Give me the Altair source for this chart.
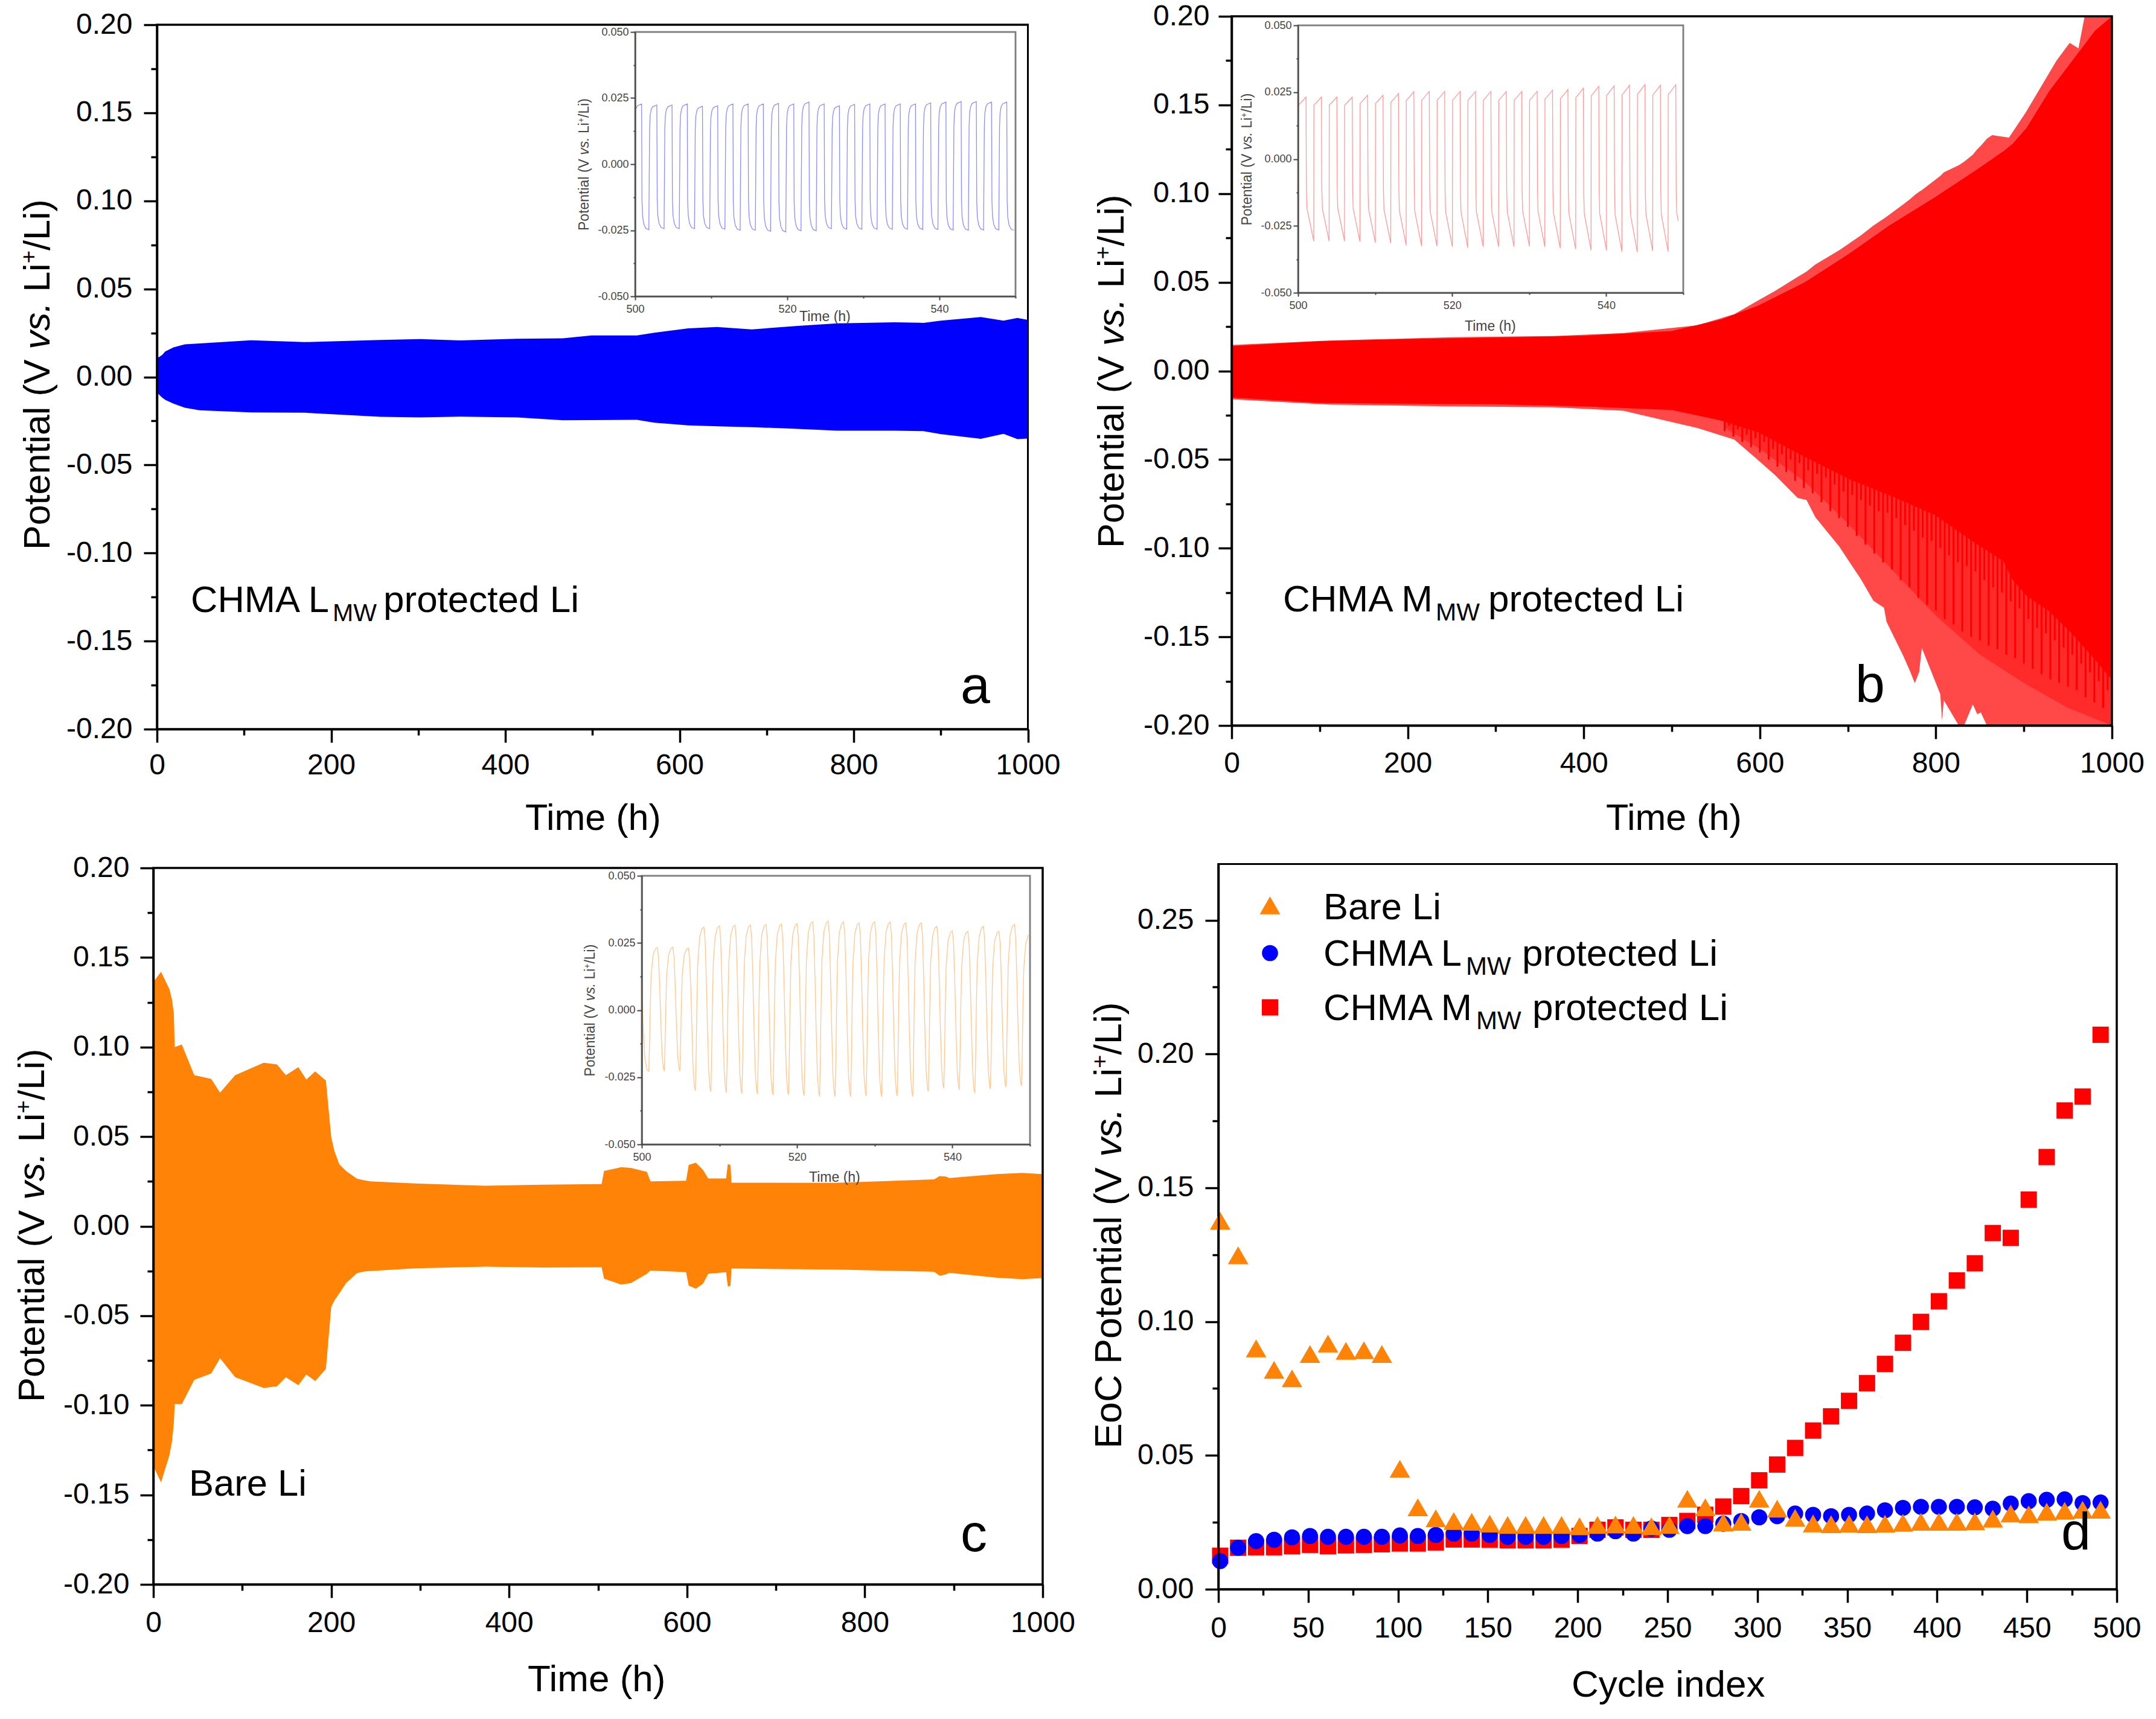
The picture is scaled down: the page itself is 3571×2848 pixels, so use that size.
import altair as alt
import pandas as pd

FONT = "Liberation Sans"
W, H, M = 3555, 2832, 8
BLUE, RED, ORANGE = "#0000ff", "#ff0000", "#ff8306"

# ---------- panel a envelope ----------
a_t = [0, 6, 9.5, 19, 32, 49, 108, 170, 256, 302, 348, 413, 466, 499, 551, 571, 610, 643, 683, 735, 781, 847, 880, 900, 946, 972, 988, 1000]
a_up = [.0105, .0125, .0145, .0168, .0185, .019, .0208, .0198, .021, .0215, .0207, .0217, .0219, .0236, .0236, .0251, .0276, .0284, .027, .029, .0304, .031, .0307, .032, .034, .032, .0335, .0324]
a_lo = [-.0089, -.0117, -.013, -.0152, -.0175, -.0189, -.0201, -.0203, -.0226, -.023, -.0225, -.023, -.0246, -.0245, -.0243, -.026, -.0275, -.028, -.0285, -.0295, -.0305, -.0305, -.0308, -.0325, -.0351, -.0323, -.0353, -.035]

# ---------- panel b envelope: outer tips, mid tone, solid core, streaks ----------
b_t = [0, 110, 248, 366, 445, 529, 571, 599, 617, 643, 653, 663, 690, 715, 729, 741, 744, 763, 771, 776, 781, 784, 805, 807, 809, 826, 832, 842, 847, 851, 858, 864, 883, 902, 937, 952, 962, 969, 1000]
b_up = [.0146, .0171, .019, .0197, .0214, .0257, .032, .04, .045, .053, .056, .06, .068, .0765, .082, .086, .087, .094, .097, .0992, .101, .102, .11, .111, .112, .116, .118, .122, .125, .127, .131, .133, .1316, .1457, .175, .185, .182, .2, .2]
b_lo = [-.016, -.019, -.02, -.0205, -.0225, -.0322, -.0387, -.0507, -.0586, -.0717, -.0728, -.0825, -.0989, -.1176, -.1296, -.1335, -.1415, -.1608, -.1698, -.1761, -.1698, -.1562, -.1823, -.197, -.1857, -.2, -.2, -.188, -.1936, -.1926, -.2, -.2, -.2, -.2, -.2, -.2, -.2, -.2, -.2]
mid_t = [560, 600, 650, 700, 750, 800, 850, 900, 950, 1000]
mid_lo = [-.032, -.044, -.062, -.086, -.112, -.138, -.16, -.176, -.19, -.2]
mid_up = [0, 0, 0, 0, 0, 0, 0, 0, 0, 0]
core_t = [0, 100, 200, 300, 400, 500, 556, 599, 651, 701, 747, 799, 845, 877, 887, 903, 929, 955, 981, 1000]
core_up = [.014, .0168, .018, .0188, .0198, .0225, .029, .037, .05, .066, .082, .098, .113, .124, .128, .137, .158, .175, .192, .2]
core_lo = [-.015, -.018, -.0185, -.0188, -.02, -.022, -.028, -.0348, -.0484, -.0609, -.07, -.0813, -.0972, -.1074, -.1176, -.1267, -.1357, -.1483, -.163, -.1744]
streak_t = list(range(560, 1000, 5))
streak_lo = [-.034, -.031, -.037, -.033, -.04, -.036, -.043, -.038,
             -.046, -.04, -.05, -.044, -.054, -.047, -.057, -.05, -.062, -.052, -.066,
             -.056, -.069, -.058, -.074, -.06, -.079, -.064, -.083, -.068, -.088,
             -.07, -.093, -.073, -.098, -.076, -.103, -.079, -.108, -.08, -.112,
             -.083, -.118, -.087, -.122, -.09, -.128, -.094, -.132, -.096, -.135,
             -.1, -.14, -.104, -.143, -.108, -.147, -.11, -.15, -.113, -.152,
             -.118, -.155, -.122, -.157, -.125, -.16, -.13, -.162, -.134, -.165,
             -.14, -.168, -.145, -.171, -.148, -.174, -.152, -.176, -.156, -.178,
             -.16, -.18, -.165, -.184, -.17, -.187, -.175, -.19, -.18]

# ---------- panel c envelope ----------
c_t = [0, 8.6, 18, 21, 23, 24, 32, 46, 65, 75, 92, 124, 139, 149, 163, 172, 182, 194, 200, 203.5, 209, 217, 229, 237, 244, 295, 373, 439, 504, 506.8, 526, 537, 555, 559, 599, 602, 610, 618, 624, 644, 646, 649, 650, 766, 878, 884, 891, 895, 948, 977, 1000]
c_up = [.1363, .142, .1324, .1264, .1189, .1, .1014, .0843, .0822, .0746, .0843, .0912, .0903, .0843, .0888, .0819, .0864, .0813, .0497, .0421, .0346, .0307, .0265, .0256, .025, .0238, .0226, .0232, .0235, .0308, .0329, .0325, .0303, .025, .0254, .0342, .0355, .0314, .0266, .0266, .0348, .034, .0243, .0242, .0261, .028, .0277, .0269, .0291, .0297, .0291]
c_lo = [-.134, -.143, -.128, -.12, -.11, -.0993, -.0993, -.0858, -.0822, -.0737, -.0843, -.0903, -.0894, -.0843, -.0888, -.0828, -.0864, -.0797, -.0451, -.0415, -.0376, -.0316, -.0262, -.0253, -.025, -.0235, -.0226, -.0231, -.0229, -.0293, -.0326, -.0318, -.0265, -.0248, -.0256, -.0332, -.0349, -.0321, -.0265, -.0257, -.0338, -.0332, -.0236, -.0242, -.0254, -.0276, -.027, -.026, -.0287, -.0296, -.029]

# ---------- inset waveforms: peak read for each cycle, plus the cycle's shape ----------
ia_top = [.0228, .0224, .0224, .0228, .0219, .0221, .0228, .0228, .0228, .023, .0228, .0235, .0228, .0221, .0226, .0228, .0228, .0228, .0228, .0232, .0235, .0237, .0237, .0235, .0235]
ia_bot = [-.0248, -.0244, -.0244, -.0244, -.0244, -.0246, -.025, -.025, -.0254, -.0256, -.0252, -.0252, -.0244, -.0246, -.0246, -.0246, -.0246, -.0246, -.0247, -.0247, -.0249, -.025, -.0249, -.0249, -.025]
ia_up_shape = [(0, .6), (.07, .82), (.2, .92), (.4, .97), (.95, 1)]
ia_dn_shape = [(1, .55), (1.08, .8), (1.25, .92), (1.5, .98), (1.9, 1)]

ib_top = [.0232, .0232, .0232, .0232, .0239, .0239, .0245, .0252, .0253, .0253, .0253, .0253, .0253, .0253, .0253, .0253, .0258, .026, .0265, .0272, .0274, .0276, .0279, .0276, .0278]
ib_bot = [-.0307, -.0307, -.0307, -.0309, -.0313, -.0315, -.0322, -.0326, -.0326, -.0328, -.0332, -.0328, -.0328, -.0328, -.0326, -.0328, -.0334, -.0337, -.0341, -.0341, -.0346, -.0348, -.0344, -.0346, -.0335]
ib_up_shape = [(0, .87), (.25, .9), (.98, 1)]
ib_dn_shape = [(1.03, .36), (1.1, .6), (1.3, .69), (1.98, 1)]

ic_top = [.0233, .0234, .0231, .0309, .0314, .0316, .0316, .0319, .032, .0322, .0329, .0331, .0329, .0325, .0329, .0328, .0325, .0325, .0312, .0295, .0293, .0312, .0293, .0319, .0282]
ic_bot = [-.0227, -.0227, -.0227, -.03, -.0304, -.0307, -.0311, -.0313, -.0316, -.0316, -.0319, -.0322, -.0322, -.0322, -.032, -.0322, -.032, -.0322, -.0303, -.0291, -.0296, -.0309, -.0294, -.0287, -.0283]
ic_start_t = [500, 500.15, 500.4, 500.7]
ic_start_v = [.008, -.005, -.018, -.0225]
ic_rise_shape = [(0, "b", 1), (.1, "b", .55), (.18, "b", 0), (.3, "t", .55), (.55, "t", .88), (.85, "t", .98), (1.1, "t", 1)]
ic_fall_shape = [(1.25, "t", .85), (1.4, "t", .4), (1.55, "n", .2), (1.72, "n", .75), (1.88, "n", .95)]

# ---------- panel d ----------
cycle = [1, 11, 21, 31, 41, 51, 61, 71, 81, 91, 101, 111, 121, 131, 141, 151, 161, 171, 181, 191, 201, 211, 221, 231, 241, 251, 261, 271, 281, 291, 301, 311, 321, 331, 341, 351, 361, 371, 381, 391, 401, 411, 421, 431, 441, 451, 461, 471, 481, 491]
d_bare = [.1377, .1248, .09, .082, .0788, .0879, .0918, .0891, .0893, .0879, .045, .0306, .0265, .0255, .0252, .0245, .024, .024, .024, .024, .0235, .024, .0242, .024, .0235, .024, .0338, .0306, .025, .0252, .0338, .0301, .0267, .0246, .0243, .0245, .0243, .0245, .0248, .0252, .0252, .0252, .0254, .0264, .0283, .028, .029, .0293, .0297, .0297]
d_l = [.0105, .0155, .018, .0185, .0194, .0199, .0196, .0196, .0196, .0196, .0201, .0199, .0203, .0208, .0208, .0203, .0196, .0196, .0196, .0199, .0203, .0208, .0217, .0208, .0227, .0222, .0236, .0236, .0245, .0255, .0269, .0273, .0283, .0278, .0273, .0278, .0283, .0295, .0304, .0308, .0308, .0308, .0306, .0301, .032, .0329, .0334, .0336, .0322, .0324]
d_m = [.0125, .0155, .0157, .0157, .0161, .0166, .0161, .0164, .0166, .0168, .0171, .0171, .0175, .0186, .0186, .0185, .0183, .0183, .0183, .0185, .0199, .0222, .0231, .0222, .0222, .024, .0255, .0278, .0309, .0348, .0407, .0466, .0528, .0593, .0646, .0704, .077, .0842, .0921, .0999, .1076, .1154, .1218, .1331, .1313, .1456, .1615, .1789, .1841, .2072]

POT = [("Potential (V", 5.447, "normal", 0, 1), ("vs.", 1.556, "italic", 0, 1), ("Li", .778, "normal", 0, 1), ("+", .35, "normal", .36, .6), ("/Li)", 1.389, "normal", 0, 1)]
EOC = [("EoC", 2.223, "normal", 0, 1)]


def build_square(top, bot, up, dn, offset):
    t, v = [], []
    for k in range(25):
        for ph, f in up:
            t.append(500 + 2 * k + ph + offset)
            v.append(top[k] * f)
        for ph, f in dn:
            t.append(500 + 2 * k + ph + offset)
            v.append(bot[k] * f)
    return pd.DataFrame({"t": t, "v": v}).query("t >= 500 and t <= 550")


def build_c():
    t, v = list(ic_start_t), list(ic_start_v)
    for k in range(25):
        nxt = ic_bot[min(k + 1, 24)]
        for ph, w, f in ic_rise_shape + ic_fall_shape:
            t.append(500.9 + 2 * k + ph)
            base = {"b": ic_bot[k], "t": ic_top[k], "n": nxt}[w]
            v.append(base * f)
    return pd.DataFrame({"t": t, "v": v}).query("t <= 550")


def scales(box, xd, yd):
    x0, x1, y0, y1 = box
    return (alt.Scale(domain=xd, range=[x0 - M, x1 - M], nice=False, zero=False, clamp=True),
            alt.Scale(domain=yd, range=[y1 - M, y0 - M], nice=False, zero=False, clamp=True))


def frame_layers(box, xd, yd, xmaj, xmin, ymaj, ymin, fmt_x, fmt_y, inset=False, pad_x=14, pad_y=19):
    sx, sy = scales(box, xd, yd)
    x0, x1, y0, y1 = box
    df = pd.DataFrame({"a": [xd[0]], "b": [xd[1]], "c": [yd[0]], "d": [yd[1]]})
    tick_w = 2 if inset else 3.5
    col = "#444444" if inset else "#000000"
    common = dict(grid=False, title=None, zindex=1, labelFont=FONT, labelColor=col, domainColor=col, tickColor=col,
                  tickWidth=tick_w, domainWidth=tick_w, labelFontSize=18 if inset else 48,
                  labelOverlap=False, labelFlush=False, labelBound=False)
    maj_x = alt.Axis(orient="bottom", offset=(y1 - M) - H, values=xmaj, format=fmt_x,
                     tickSize=6 if inset else 22, labelPadding=pad_x, **common)
    maj_y = alt.Axis(orient="left", offset=-(x0 - M), values=ymaj, format=fmt_y,
                     labelExpr="replace(datum.label, '\u2212', '-')",
                     tickSize=8 if inset else 22, labelPadding=pad_y, **common)
    min_common = dict(common, labelFontSize=1)
    min_x = alt.Axis(orient="bottom", offset=(y1 - M) - H, values=xmin, labels=False, domain=False,
                     tickSize=3 if inset else 10, **min_common)
    min_y = alt.Axis(orient="left", offset=-(x0 - M), values=ymin, labels=False, domain=False,
                     tickSize=3 if inset else 10, **min_common)
    stroke = "#808080" if inset else "#000000"
    mk = alt.Chart(df).mark_rect(fillOpacity=0, stroke=stroke, strokeWidth=2.5 if inset else 3)
    return [
        mk.encode(x=alt.X("a:Q", scale=sx, axis=maj_x), x2="b:Q", y=alt.Y("c:Q", scale=sy, axis=maj_y), y2="d:Q"),
        mk.encode(x=alt.X("a:Q", scale=sx, axis=min_x), x2="b:Q", y=alt.Y("c:Q", scale=sy, axis=min_y), y2="d:Q"),
    ]


def band(t, up, lo, box, xd, yd, color):
    sx, sy = scales(box, xd, yd)
    df = pd.DataFrame({"t": t, "u": up, "l": lo})
    return alt.Chart(df).mark_area(color=color, opacity=1, interpolate="linear").encode(
        x=alt.X("t:Q", scale=sx, axis=None), y=alt.Y("u:Q", scale=sy, axis=None), y2="l:Q")


def wave(df, box, color, op):
    sx, sy = scales(box, [500, 550], [-.05, .05])
    return alt.Chart(df).mark_line(color=color, strokeWidth=1.3, opacity=op, interpolate="linear").encode(
        x=alt.X("t:Q", scale=sx, axis=None), y=alt.Y("v:Q", scale=sy, axis=None))


ann = []


def put(x, y, text, size, angle=0, style="normal", color="#000000"):
    ann.append(dict(x=x - M, y=y - M, text=text, size=size, angle=angle, style=style, color=color))


def rot_title(x, y, size, parts, color="#000000"):
    for text, em, style, raise_em, scale in parts:
        put(x - raise_em * size, y, text, size * scale, 270, style, color)
        y -= em * size


PA = (260, 1702.5, 41, 1208)
PB = (2040, 3498, 27, 1202)
PC = (254, 1727, 1438, 2625)
PD = (2018, 3506, 1431.5, 2633)
IA = (1052, 1682, 53, 491)
IB = (2150, 2788, 42, 485)
IC = (1063, 1706, 1451, 1896)

xd, yd = [0, 1000], [-.2, .2]
sxb, syb = scales(PB, xd, yd)
layers = []
layers.append(band(a_t, a_up, a_lo, PA, xd, yd, BLUE))
layers.append(band(b_t, b_up, b_lo, PB, xd, yd, "#ff4848"))
layers.append(band(mid_t, mid_up, mid_lo, PB, xd, yd, "#ff2a2a"))
layers.append(alt.Chart(pd.DataFrame({"t": streak_t, "l": streak_lo, "c": [-.025] * len(streak_t)}))
              .mark_rule(color=RED, strokeWidth=3).encode(
    x=alt.X("t:Q", scale=sxb, axis=None), y=alt.Y("l:Q", scale=syb, axis=None), y2="c:Q"))
layers.append(band(core_t, core_up, core_lo, PB, xd, yd, RED))
layers.append(band(c_t, c_up, c_lo, PC, xd, yd, ORANGE))

x_maj, x_min = [0, 200, 400, 600, 800, 1000], [100, 300, 500, 700, 900]
y_maj = [-.2, -.15, -.1, -.05, 0, .05, .1, .15, .2]
y_min = [-.175, -.125, -.075, -.025, .025, .075, .125, .175]
for box, px, py in ((PA, 14, 19), (PB, 17, 15), (PC, 18, 18)):
    layers += frame_layers(box, xd, yd, x_maj, x_min, y_maj, y_min, "d", ".2f", pad_x=px, pad_y=py)

for box in (IA, IB, IC):
    layers += frame_layers(box, [500, 550], [-.05, .05], [500, 520, 540], [510, 530, 550],
                           [-.05, -.025, 0, .025, .05], [-.0375, -.0125, .0125, .0375], "d", ".3f",
                           inset=True, pad_x=6, pad_y=3)
layers.append(wave(build_square(ia_top, ia_bot, ia_up_shape, ia_dn_shape, -.1), IA, BLUE, .45))
layers.append(wave(build_square(ib_top, ib_bot, ib_up_shape, ib_dn_shape, .05), IB, RED, .4))
layers.append(wave(build_c(), IC, ORANGE, .45))

# panel d
dxd, dyd = [0, 500], [0, .271]
sxd, syd = scales(PD, dxd, dyd)
layers += frame_layers(PD, dxd, dyd, list(range(0, 501, 50)), list(range(25, 500, 50)),
                       [0, .05, .1, .15, .2, .25], [.025, .075, .125, .175, .225], "d", ".2f", pad_x=19)
for vals, shape, size, col in ((d_m, "square", 729, RED), (d_l, "circle", 707, BLUE), (d_bare, "triangle-up", 1156, ORANGE)):
    layers.append(alt.Chart(pd.DataFrame({"c": cycle, "v": vals})).mark_point(
        shape=shape, size=size, filled=True, opacity=1, color=col).encode(
        x=alt.X("c:Q", scale=sxd, axis=None), y=alt.Y("v:Q", scale=syd, axis=None)))

# legend symbols
for lx, ly, shape, size, col in ((2103.5, 1500, "triangle-up", 1156, ORANGE), (2103.5, 1579, "circle", 707, BLUE), (2103.5, 1669, "square", 729, RED)):
    layers.append(alt.Chart(pd.DataFrame({"x": [lx - M], "y": [ly - M]})).mark_point(
        shape=shape, size=size, filled=True, opacity=1, color=col).encode(
        x=alt.X("x:Q", scale=None, axis=None), y=alt.Y("y:Q", scale=None, axis=None)))

# text
rot_title(82, 911, 61, POT)
rot_title(1861, 908, 61.5, POT)
rot_title(73, 2323, 61.5, POT)
rot_title(1857, 2400, 63, EOC + POT)
put(870, 1375, "Time (h)", 61)
put(2660, 1375, "Time (h)", 61)
put(874, 2802, "Time (h)", 62)
put(2603, 2811, "Cycle index", 62)
put(316, 1014, "CHMA L", 61.5); put(551, 1029, "MW", 41); put(635, 1014, "protected Li", 62)
put(2125, 1013, "CHMA M", 62); put(2378, 1028, "MW", 41); put(2465, 1013, "protected Li", 62)
put(313, 2478, "Bare Li", 61.5)
put(1591, 1165, "a", 88); put(3073, 1163, "b", 88); put(1591, 2570, "c", 88); put(3414, 2567, "d", 88)
put(2192, 1523, "Bare Li", 61.5)
put(2192, 1600, "CHMA L", 61.5); put(2428, 1615, "MW", 42); put(2521, 1600, "protected Li", 62)
put(2192, 1690, "CHMA M", 61.5); put(2445, 1705, "MW", 42); put(2538, 1690, "protected Li", 62)
for tx, ty in ((975, 382), (2073, 373.6), (985, 1783.6)):
    rot_title(tx, ty, 23, POT, "#444444")
put(1324, 532, "Time (h)", 23, color="#444444")
put(2426, 548, "Time (h)", 23, color="#444444")
put(1340, 1958, "Time (h)", 23, color="#444444")

ann_df = pd.DataFrame(ann)
for style in ("normal", "italic"):
    sub = ann_df[ann_df["style"] == style]
    layers.append(alt.Chart(sub).mark_text(font=FONT, align="left", baseline="alphabetic", fontStyle=style).encode(
        x=alt.X("x:Q", scale=None, axis=None), y=alt.Y("y:Q", scale=None, axis=None),
        text="text:N", size=alt.Size("size:Q", scale=None, legend=None),
        angle=alt.Angle("angle:Q", scale=None), color=alt.Color("color:N", scale=None, legend=None)))

chart = (alt.layer(*layers)
         .resolve_scale(x="independent", y="independent")
         .resolve_axis(x="independent", y="independent")
         .properties(width=W, height=H, padding=0, background="white",
                     autosize=alt.AutoSizeParams(type="none"))
         .configure_view(stroke=None))
chart.save("out.html", embed_options={"renderer": "svg", "actions": False})
